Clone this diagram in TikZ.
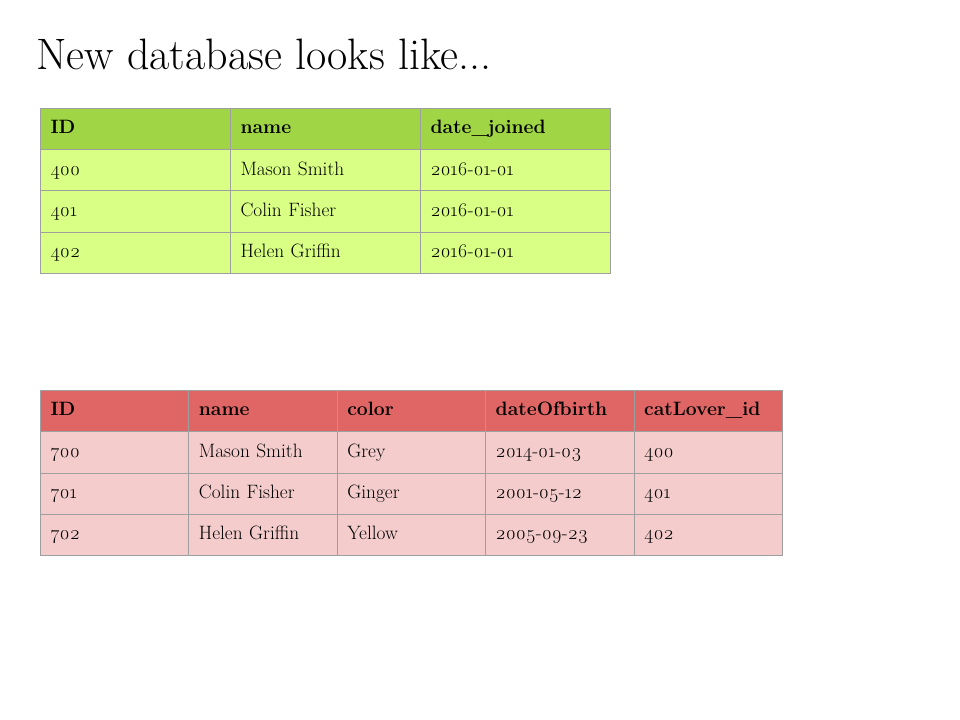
\documentclass[tikz,border=0pt]{standalone}
\usepackage{fontspec}
\setmainfont{Latin Modern Roman}[Numbers=OldStyle]
\definecolor{ghead}{HTML}{A0D545}
\definecolor{gbody}{HTML}{D9FF85}
\definecolor{rhead}{HTML}{E06666}
\definecolor{rbody}{HTML}{F4CCCC}
\definecolor{gridc}{HTML}{9F9F9F}
\begin{document}
\begin{tikzpicture}[x=0.75pt,y=-0.75pt,
  cell/.style={draw=gridc, line width=0.75pt, anchor=north west, inner xsep=7.5pt, inner ysep=0pt,
    minimum height=30.94pt, text height=10pt, text depth=3pt, align=left,
    font=\fontsize{14.5}{16}\selectfont},
  gcell/.style={cell, text width=127.5pt},
  rcell/.style={cell, text width=96.3pt},
  hdr/.style={font=\fontsize{14.5}{16}\selectfont\bfseries}]
\useasboundingbox (0,0) rectangle (960,720);
\node[anchor=base west, inner sep=0pt, font=\fontsize{33}{40}\selectfont] (title) at (36,70) {New database looks like...};
% green table
\foreach \t [count=\j from 0] in {ID,name,date\_joined}
  \node[gcell, hdr, fill=ghead] (g-0-\j) at (40+190*\j,108) {\t};
\foreach \a/\b/\c [count=\i] in {400/{Mason Smith}/2016-01-01, 401/{Colin Fisher}/2016-01-01, 402/{Helen Griffin}/2016-01-01}{
  \node[gcell, fill=gbody] (g-\i-0) at (40,108+41.25*\i) {\a};
  \node[gcell, fill=gbody] (g-\i-1) at (230,108+41.25*\i) {\b};
  \node[gcell, fill=gbody] (g-\i-2) at (420,108+41.25*\i) {\c};
}
% red table
\foreach \t [count=\j from 0] in {ID,name,color,dateOfbirth,catLover\_id}
  \node[rcell, hdr, fill=rhead] (r-0-\j) at (40+148.4*\j,390) {\t};
\foreach \a/\b/\c/\d/\e [count=\i] in {700/{Mason Smith}/Grey/2014-01-03/400, 701/{Colin Fisher}/Ginger/2001-05-12/401, 702/{Helen Griffin}/Yellow/2005-09-23/402}{
  \node[rcell, fill=rbody] (r-\i-0) at (40,390+41.25*\i) {\a};
  \node[rcell, fill=rbody] (r-\i-1) at (188.4,390+41.25*\i) {\b};
  \node[rcell, fill=rbody] (r-\i-2) at (336.8,390+41.25*\i) {\c};
  \node[rcell, fill=rbody] (r-\i-3) at (485.2,390+41.25*\i) {\d};
  \node[rcell, fill=rbody] (r-\i-4) at (633.6,390+41.25*\i) {\e};
}
\end{tikzpicture}
\end{document}
